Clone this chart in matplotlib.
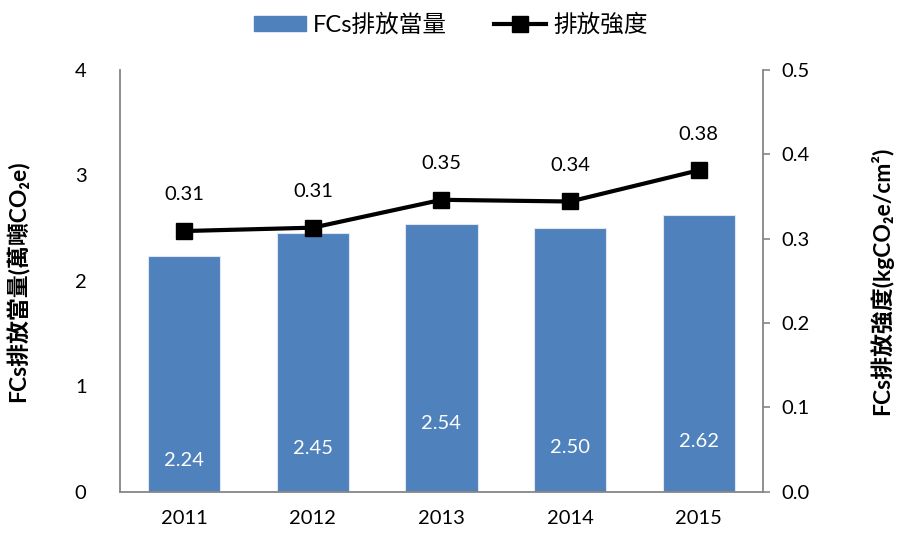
import matplotlib
matplotlib.use("Agg")
import matplotlib.pyplot as plt
from matplotlib.patches import Patch
from matplotlib.lines import Line2D

# Données
years = ["2011", "2012", "2013", "2014", "2015"]
emissions = [2.24, 2.45, 2.54, 2.50, 2.62]  # FCs排放當量 (萬噸CO2e)
intensity = [0.309, 0.313, 0.346, 0.344, 0.381]  # 排放強度 (kgCO2e/cm2)
intensity_labels = ["0.31", "0.31", "0.35", "0.34", "0.38"]

# Hauteur des étiquettes dans les barres (mise en page)
label_heights = [0.30, 0.41, 0.65, 0.42, 0.48]

plt.rcParams["font.family"] = ["Lato", "Noto Sans CJK TC", "DejaVu Sans"]

bar_color = "#4F81BD"
spine_color = "#868686"
fs = 14.5

fig = plt.figure(figsize=(9.01, 5.37), dpi=100)
ax = fig.add_axes([0.133, 0.084, 0.714, 0.786])
ax2 = ax.twinx()

x = list(range(len(years)))
ax.bar(x, emissions, width=0.56, color=bar_color, edgecolor="#dfe6ef", linewidth=0.8, zorder=2)
for xi, v, h in zip(x, emissions, label_heights):
    ax.text(xi, h, f"{v:.2f}", color="white", ha="center", va="center", fontsize=fs)

ax2.plot(x, intensity, color="black", lw=3, marker="s", markersize=11, zorder=3)
for xi, v, lab in zip(x, intensity, intensity_labels):
    ax2.annotate(lab, (xi, v), xytext=(0, 26), textcoords="offset points",
                 ha="center", va="center", fontsize=fs)

ax.set_xlim(-0.5, 4.5)
ax.set_ylim(0, 4)
ax2.set_ylim(0, 0.5)
ax.set_yticks([0, 1, 2, 3, 4])
ax2.set_yticks([0, 0.1, 0.2, 0.3, 0.4, 0.5])
ax2.set_yticklabels([f"{t:.1f}" for t in [0, 0.1, 0.2, 0.3, 0.4, 0.5]])
ax.set_xticks(x)
ax.set_xticklabels(years)

ax.tick_params(axis="y", length=0, pad=24, labelsize=fs)
ax.tick_params(axis="x", length=0, pad=13, labelsize=fs)
ax2.tick_params(axis="y", length=5, width=1.2, color=spine_color, pad=8, labelsize=fs)

for a in (ax, ax2):
    a.spines["top"].set_visible(False)
    for s in ("left", "right", "bottom"):
        a.spines[s].set_color(spine_color)
        a.spines[s].set_linewidth(1.3)
ax.spines["right"].set_visible(False)
ax2.spines["left"].set_visible(False)
ax2.spines["bottom"].set_visible(False)

ax.set_ylabel("FCs排放當量(萬噸CO₂e)", fontsize=16.5, fontweight="bold")
ax2.set_ylabel("FCs排放強度(kgCO₂e/cm²)", fontsize=16.5, fontweight="bold")
ax.yaxis.set_label_coords(-0.14, 0.5)
ax2.yaxis.set_label_coords(1.165, 0.5)

handles = [Patch(color=bar_color),
           Line2D([], [], color="black", lw=3, marker="s", markersize=11)]
fig.legend(handles, ["FCs排放當量", "排放強度"], loc="upper center", ncol=2,
           frameon=False, fontsize=17, bbox_to_anchor=(0.5, 1.015),
           handlelength=2.2, handleheight=0.55, columnspacing=2.0, handletextpad=0.3)

fig.savefig("out.png", dpi=100)
